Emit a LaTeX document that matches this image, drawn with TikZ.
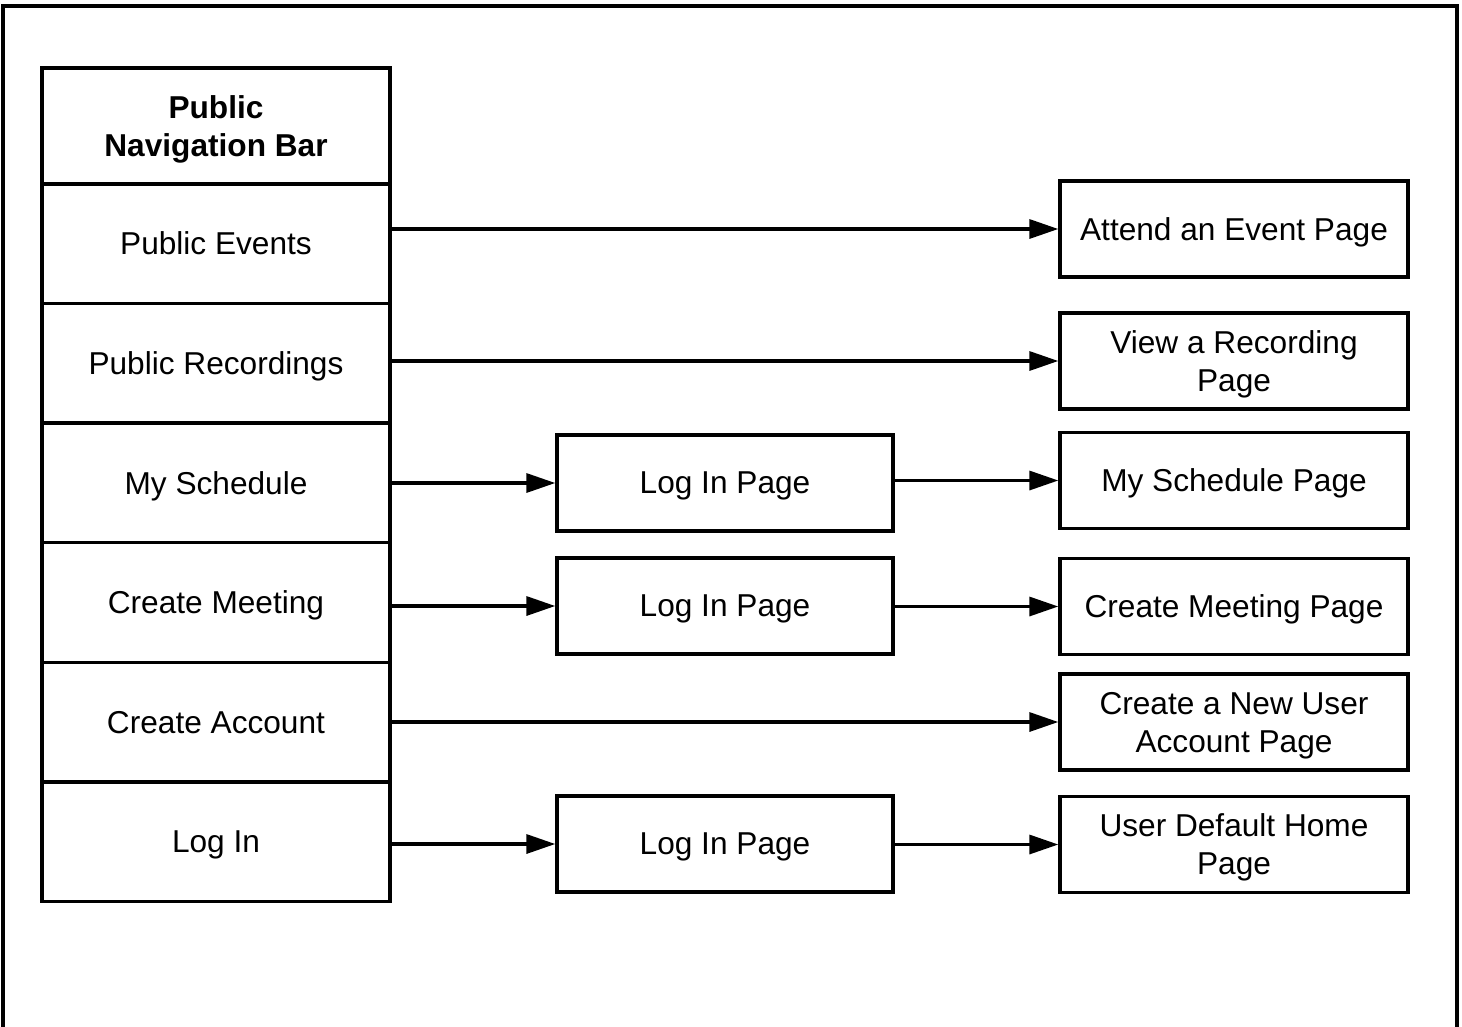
\documentclass[tikz,border=0pt]{standalone}
\usepackage{fontspec}
\setmainfont{Liberation Sans}
\usetikzlibrary{arrows.meta}
\tikzset{
  navbox/.style={draw, line width=1.9pt, minimum width=6.96cm, minimum height=2.39cm,
    align=center, text depth=0pt, font=\fontsize{18}{21.6}\selectfont},
  pagebox/.style={draw, line width=1.9pt, minimum height=1.92cm,
    align=center, text depth=0pt, font=\fontsize{18}{21.6}\selectfont},
  arr/.style={line width=1.9pt, -{Triangle[length=0.58cm,width=0.38cm]}}
}
\begin{document}
\begin{tikzpicture}
  \useasboundingbox (0,0) rectangle (29.24,-20.52);
  \draw[line width=1.9pt] (0.06,-20.6) -- (0.06,-0.12) -- (29.14,-0.12) -- (29.14,-20.6);
  % navigation bar
  \node[navbox, minimum height=2.32cm, font=\fontsize{18}{21.6}\selectfont\bfseries] (nav) at (4.32,-2.52) {Public\\Navigation Bar};
  \node[navbox] (pe) at (4.32,-4.87) {Public Events};
  \node[navbox] (pr) at (4.32,-7.26) {Public Recordings};
  \node[navbox] (ms) at (4.32,-9.66) {My Schedule};
  \node[navbox] (cm) at (4.32,-12.05) {Create Meeting};
  \node[navbox] (ca) at (4.32,-14.44) {Create Account};
  \node[navbox] (li) at (4.32,-16.84) {Log In};
  % log in pages
  \node[pagebox, minimum width=6.72cm] (login1) at (14.5,-9.66) {Log In Page};
  \node[pagebox, minimum width=6.72cm] (login2) at (14.5,-12.12) {Log In Page};
  \node[pagebox, minimum width=6.72cm] (login3) at (14.5,-16.88) {Log In Page};
  % target pages
  \node[pagebox, minimum width=6.96cm] (attend) at (24.68,-4.58) {Attend an Event Page};
  \node[pagebox, minimum width=6.96cm] (view) at (24.68,-7.22) {View a Recording\\Page};
  \node[pagebox, minimum width=6.96cm] (sched) at (24.68,-9.61) {My Schedule Page};
  \node[pagebox, minimum width=6.96cm] (meet) at (24.68,-12.13) {Create Meeting Page};
  \node[pagebox, minimum width=6.96cm] (newuser) at (24.68,-14.44) {Create a New User\\Account Page};
  \node[pagebox, minimum width=6.96cm] (home) at (24.68,-16.89) {User Default Home\\Page};
  % links
  \draw[arr] (pe.east |- attend.west) -- (attend.west);
  \draw[arr] (pr.east |- view.west) -- (view.west);
  \draw[arr] (ms.east |- login1.west) -- (login1.west);
  \draw[arr] (login1.east |- sched.west) -- (sched.west);
  \draw[arr] (cm.east |- login2.west) -- (login2.west);
  \draw[arr] (login2.east |- meet.west) -- (meet.west);
  \draw[arr] (ca.east |- newuser.west) -- (newuser.west);
  \draw[arr] (li.east |- login3.west) -- (login3.west);
  \draw[arr] (login3.east |- home.west) -- (home.west);
\end{tikzpicture}
\end{document}
